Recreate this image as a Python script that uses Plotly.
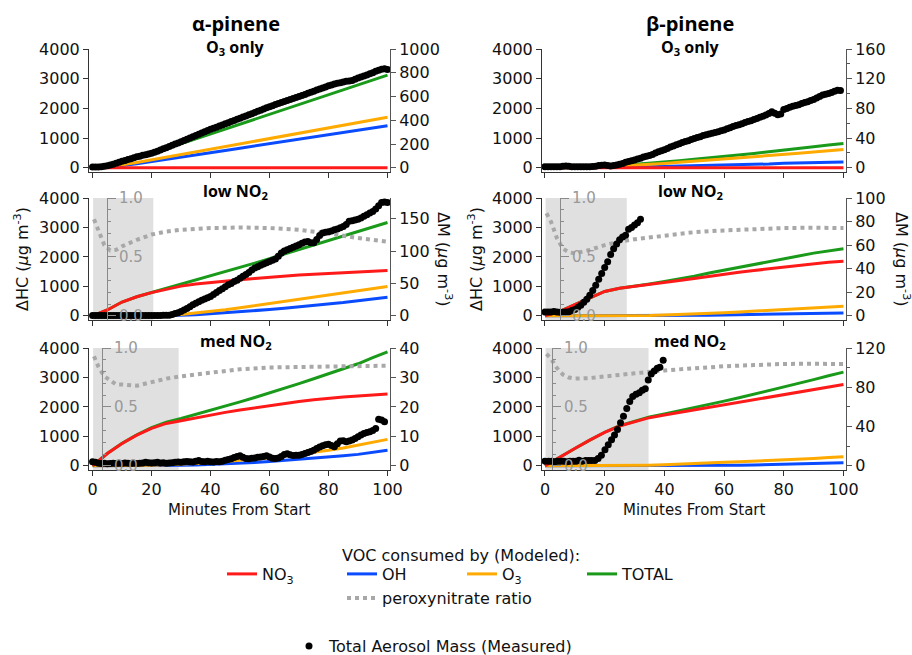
import plotly.graph_objects as go

W, H = 912, 655

# ---------------- data ----------------
t_model = [0, 5, 10, 15, 20, 25, 30, 35, 40, 45, 50, 55, 60, 65, 70, 75, 80, 85, 90, 95, 100]

# alpha-pinene, O3 only
a_o3_no3 = [0] * 21
a_o3_oh = [0, 30, 80, 140, 210, 285, 360, 435, 510, 585, 660, 735, 810, 885, 960, 1035, 1110, 1190, 1265, 1345, 1420]
a_o3_o3 = [0, 40, 100, 180, 270, 360, 450, 540, 630, 720, 810, 900, 990, 1080, 1170, 1260, 1350, 1440, 1530, 1615, 1700]
a_o3_tot = [0, 70, 180, 320, 480, 645, 810, 975, 1140, 1305, 1470, 1635, 1800, 1965, 2130, 2295, 2460, 2630, 2795, 2960, 3120]

# beta-pinene, O3 only
b_o3_no3 = [0] * 21
b_o3_oh = [0, 0, 0, 0, 5, 15, 25, 35, 45, 55, 70, 80, 90, 100, 115, 130, 155, 170, 180, 190, 200]
b_o3_o3 = [0, 0, 5, 15, 35, 60, 90, 120, 150, 185, 220, 255, 290, 330, 370, 410, 450, 490, 530, 575, 620]
b_o3_tot = [0, 0, 5, 15, 40, 75, 115, 155, 195, 240, 290, 335, 380, 430, 485, 540, 605, 660, 710, 765, 820]

# alpha-pinene, low NO2
a_lo_no3 = [0, 200, 470, 650, 790, 910, 1010, 1080, 1135, 1180, 1225, 1270, 1315, 1350, 1385, 1415, 1440, 1465, 1490, 1515, 1540]
a_lo_oh = [0, 0, 0, 0, 0, 5, 20, 40, 70, 100, 135, 175, 215, 260, 305, 350, 400, 450, 510, 570, 630]
a_lo_o3 = [0, 0, 0, 0, 5, 20, 50, 95, 150, 210, 275, 345, 415, 490, 565, 640, 715, 790, 860, 930, 1000]
a_lo_tot = [0, 200, 470, 650, 795, 935, 1080, 1215, 1355, 1490, 1635, 1790, 1945, 2100, 2255, 2405, 2555, 2705, 2860, 3015, 3170]

# beta-pinene, low NO2
b_lo_no3 = [0, 150, 380, 600, 830, 940, 1000, 1070, 1135, 1200, 1270, 1345, 1415, 1480, 1540, 1600, 1655, 1710, 1770, 1820, 1850]
b_lo_oh = [0, 0, 0, 0, 0, 0, 0, 0, 0, 5, 10, 20, 30, 40, 50, 60, 70, 80, 90, 95, 100]
b_lo_o3 = [0, 0, 0, 0, 0, 0, 5, 15, 30, 45, 65, 90, 110, 135, 160, 185, 210, 240, 270, 300, 330]
b_lo_tot = [0, 150, 380, 600, 830, 940, 1005, 1085, 1165, 1250, 1345, 1455, 1555, 1655, 1750, 1845, 1935, 2030, 2130, 2215, 2280]

# alpha-pinene, med NO2
a_md_no3 = [0, 420, 760, 1045, 1270, 1440, 1534, 1635, 1727, 1815, 1898, 1975, 2045, 2115, 2182, 2240, 2295, 2335, 2375, 2410, 2440]
a_md_oh = [0, 0, 0, 0, 5, 10, 20, 30, 45, 65, 90, 115, 145, 180, 215, 255, 300, 345, 390, 460, 530]
a_md_o3 = [0, 0, 5, 10, 20, 35, 55, 80, 110, 145, 185, 230, 280, 335, 395, 460, 530, 610, 700, 800, 900]
a_md_tot = [0, 420, 765, 1055, 1295, 1485, 1609, 1745, 1882, 2025, 2173, 2320, 2470, 2630, 2792, 2955, 3125, 3290, 3465, 3670, 3870]

# beta-pinene, med NO2
b_md_no3 = [0, 307, 590, 875, 1136, 1352, 1500, 1636, 1727, 1815, 1898, 1985, 2068, 2150, 2239, 2335, 2432, 2515, 2602, 2690, 2760]
b_md_oh = [0, 0, 0, 0, 0, 0, 0, 0, 0, 0, 0, 5, 10, 20, 30, 40, 50, 60, 75, 90, 110]
b_md_o3 = [0, 0, 0, 0, 5, 10, 15, 25, 35, 50, 80, 100, 120, 140, 160, 175, 193, 220, 250, 280, 310]
b_md_tot = [0, 307, 590, 875, 1141, 1362, 1515, 1661, 1762, 1865, 1978, 2090, 2198, 2310, 2429, 2550, 2675, 2795, 2927, 3060, 3180]

# peroxynitrate ratio
t_ratio = [0.5, 2, 4, 6, 8, 10, 15, 20, 25, 30, 40, 50, 60, 70, 80, 90, 100]
a_lo_ratio = [0.82, 0.73, 0.60, 0.555, 0.56, 0.59, 0.645, 0.69, 0.715, 0.73, 0.745, 0.75, 0.745, 0.73, 0.70, 0.66, 0.63]
b_lo_ratio = [0.87, 0.80, 0.66, 0.57, 0.54, 0.53, 0.56, 0.60, 0.63, 0.65, 0.68, 0.71, 0.725, 0.737, 0.745, 0.748, 0.745]
a_md_ratio = [0.93, 0.84, 0.76, 0.72, 0.69, 0.69, 0.68, 0.71, 0.74, 0.76, 0.79, 0.82, 0.835, 0.84, 0.845, 0.85, 0.85]
b_md_ratio = [0.95, 0.91, 0.83, 0.775, 0.75, 0.74, 0.745, 0.76, 0.775, 0.785, 0.81, 0.83, 0.845, 0.855, 0.865, 0.866, 0.864]

# measured total aerosol mass (ug m-3)
t_meas_100 = list(range(0, 101))
t_meas_99 = list(range(0, 100))

a_o3_meas = [8, 7, 8, 10, 14, 18, 24, 30, 38, 46,
             55, 62, 70, 77, 85, 93, 98, 105, 111, 116,
             122, 131, 140, 150, 160, 170, 180, 190, 200, 210,
             220, 230, 241, 251, 262, 272, 282, 293, 303, 314,
             324, 333, 342, 352, 361, 370, 380, 389, 398, 408,
             417, 427, 437, 446, 456, 466, 476, 485, 495, 505,
             515, 523, 532, 541, 549, 558, 566, 575, 583, 592,
             600, 609, 618, 627, 636, 645, 654, 663, 672, 681,
             690, 697, 705, 712, 716, 722, 728, 730, 735, 745,
             755, 764, 773, 782, 791, 800, 812, 822, 830, 833, 828]

b_o3_meas = [1.5, 1.5, 1.4, 1.6, 1.5, 1.5, 2.0, 2.5, 2.0, 1.6,
             1.5, 1.4, 1.5, 1.5, 1.6, 1.6, 1.8, 2.2, 3.0, 3.6,
             3.8, 3.2, 2.6, 3.0, 3.8, 4.8, 6.0, 7.5, 8.5, 9.5,
             10.5, 12.0, 13.0, 14.5, 15.5, 16.5, 18.0, 20.0, 21.5, 23.0,
             24.5, 26.0, 28.0, 29.5, 31.0, 32.5, 34.0, 35.5, 36.5, 38.0,
             39.5, 41.0, 42.0, 43.5, 44.5, 45.5, 46.5, 47.5, 48.5, 50.0,
             51.0, 52.5, 54.0, 55.5, 57.0, 58.0, 59.5, 61.0, 62.5, 63.5,
             65.0, 66.5, 68.0, 69.5, 71.0, 73.0, 75.5, 73.5, 71.5, 72.5,
             78.5, 80.0, 81.5, 83.0, 84.0, 85.0, 86.5, 88.0, 89.0, 90.5,
             92.0, 94.0, 96.0, 98.0, 99.0, 100.0, 101.5, 103.0, 104.5, 104.0]

a_lo_meas = [0.5, 0.4, 0.5, 0.5, 0.4, 0.5, 0.5, 0.4, 0.5, 0.5,
             0.4, 0.5, 0.5, 0.4, 0.5, 0.5, 0.4, 0.5, 0.5, 0.4,
             0.5, 0.6, 0.5, 0.6, 0.8, 0.9, 1.0, 2.0, 3.5, 5.0,
             6.7, 9.0, 11.5, 14.0, 17.0, 19.6, 22.0, 24.0, 26.0, 28.0,
             30.0, 33.0, 36.0, 39.0, 42.0, 45.0, 48.0, 50.0, 53.0, 55.0,
             58.0, 61.0, 64.0, 67.0, 71.0, 74.0, 76.0, 78.0, 80.0, 82.0,
             84.0, 86.0, 88.0, 92.0, 97.0, 100.0, 102.0, 104.0, 106.0, 108.0,
             110.0, 112.0, 114.0, 115.0, 113.0, 113.0, 118.0, 124.0, 128.0, 129.0,
             130.0, 131.0, 133.0, 134.0, 136.0, 138.0, 141.0, 146.0, 147.0, 148.0,
             149.0, 151.0, 154.0, 156.0, 159.0, 161.0, 165.0, 170.0, 175.0, 176.0, 175.0]

t_b_lo_meas = list(range(0, 33))
b_lo_meas = [3.2, 3.2, 3.3, 3.8, 3.3, 3.1, 3.0, 3.3, 3.6, 4.5,
             5.5, 7.0, 9.0, 11.5, 14.0, 17.5, 21.5, 26.0, 31.0, 36.0,
             41.0, 46.0, 52.0, 57.0, 61.0, 64.5, 67.0, 68.5, 73.5, 75.0,
             77.0, 79.0, 82.0]

a_md_meas = [1.4, 1.2, 0.9, 0.8, 0.9, 0.7, 0.8, 0.9, 0.8, 0.9,
             0.8, 1.0, 0.9, 0.8, 0.9, 0.8, 0.9, 1.0, 1.2, 1.1,
             1.0, 1.1, 1.2, 1.0, 1.1, 0.9, 1.0, 1.1, 1.2, 1.3,
             1.2, 1.4, 1.5, 1.4, 1.3, 1.6, 1.8, 1.5, 1.4, 1.6,
             1.4, 1.3, 1.5, 1.4, 1.6, 1.9, 2.2, 2.4, 2.8, 3.2,
             3.4, 2.9, 2.5, 2.4, 2.6, 2.7, 2.9, 3.0, 3.2, 3.4,
             3.0, 2.6, 2.5, 2.7, 3.2, 3.9, 4.1, 3.8, 3.5, 3.6,
             3.6, 3.9, 4.2, 4.5, 4.9, 5.3, 5.9, 6.4, 6.8, 7.2,
             7.3, 6.9, 6.5, 7.5, 8.4, 8.5, 8.2, 8.4, 8.8, 9.3,
             9.9, 10.5, 11.0, 11.3, 11.6, 12.0, 12.7, 15.8, 15.6, 15.0]

t_b_md_meas = [0, 1.2, 2.2, 3.2, 4.2, 5.2, 6.3, 7.4, 8.4, 9.4,
               10.4, 11.4, 12.4, 13.6, 14.6, 15.6, 16.7, 17.8, 18.9, 20.1,
               21.2, 22.3, 23.3, 24.3, 25.3, 26.3, 27.4, 28.4, 29.4, 30.5,
               31.6, 32.6, 33.6, 34.6, 35.6, 36.6, 37.6, 38.5, 39.6]
b_md_meas = [4.8, 4.8, 4.8, 4.2, 4.8, 4.8, 4.8, 4.2, 4.8, 4.8,
             4.8, 5.8, 4.8, 5.5, 5.5, 5.5, 5.5, 7.5, 10.9, 16.5,
             21.5, 26.5, 31.5, 37.0, 44.0, 50.5, 58.5, 65.5, 70.5, 73.0,
             74.5, 77.0, 78.5, 87.5, 93.5, 96.5, 99.5, 100.5, 107.5]

# shaded period (minutes)
shade_a_lo = [0.2, 20.6]
shade_b_lo = [0.2, 27.4]
shade_a_md = [0.2, 29.2]
shade_b_md = [0.2, 34.7]

col_titles = ["α-pinene", "β-pinene"]
row_titles = ["O<sub>3</sub> only", "low NO<sub>2</sub>", "med NO<sub>2</sub>"]

hc_ticks = [0, 1000, 2000, 3000, 4000]
x_ticks = [0, 20, 40, 60, 80, 100]

panels = [
    dict(r=0, c=0, model=(a_o3_no3, a_o3_oh, a_o3_o3, a_o3_tot), ratio=None, shade=None,
         mt=t_meas_100, mv=a_o3_meas, mmax=1000, mticks=[0, 200, 400, 600, 800, 1000], mminor=None),
    dict(r=0, c=1, model=(b_o3_no3, b_o3_oh, b_o3_o3, b_o3_tot), ratio=None, shade=None,
         mt=t_meas_99, mv=b_o3_meas, mmax=160, mticks=[0, 40, 80, 120, 160], mminor=[20, 60, 100, 140]),
    dict(r=1, c=0, model=(a_lo_no3, a_lo_oh, a_lo_o3, a_lo_tot), ratio=a_lo_ratio, shade=shade_a_lo,
         mt=t_meas_100, mv=a_lo_meas, mmax=182, mticks=[0, 50, 100, 150], mminor=None, rpos=107),
    dict(r=1, c=1, model=(b_lo_no3, b_lo_oh, b_lo_o3, b_lo_tot), ratio=b_lo_ratio, shade=shade_b_lo,
         mt=t_b_lo_meas, mv=b_lo_meas, mmax=100, mticks=[0, 20, 40, 60, 80, 100], mminor=None, rpos=560),
    dict(r=2, c=0, model=(a_md_no3, a_md_oh, a_md_o3, a_md_tot), ratio=a_md_ratio, shade=shade_a_md,
         mt=t_meas_99, mv=a_md_meas, mmax=40, mticks=[0, 10, 20, 30, 40], mminor=None, rpos=102),
    dict(r=2, c=1, model=(b_md_no3, b_md_oh, b_md_o3, b_md_tot), ratio=b_md_ratio, shade=shade_b_md,
         mt=t_b_md_meas, mv=b_md_meas, mmax=120, mticks=[0, 40, 80, 120], mminor=[20, 60, 100], rpos=552),
]

# ---------------- styling ----------------
RED, BLUE, ORANGE, GREEN = "#ff1a1a", "#0a4bff", "#ffaa00", "#1a9a1a"
GRAY = "#a8a8a8"
SHADE = "#e0e0e0"
FONT = "DejaVu Sans"
BOLD = "Open Sans"
model_names = ["NO<sub>3</sub>", "OH", "O<sub>3</sub>", "TOTAL"]
model_colors = [RED, BLUE, ORANGE, GREEN]
draw_order = [3, 1, 2, 0]   # TOTAL at the bottom, NO3 on top

col_px = [(89, 390), (542, 846)]
col_xrange = [[-1.2, 100.85], [-1.0, 100.85]]
row_px = [(49, 172), (198, 320), (348, 470)]
row_title_y = [48, 191, 341]
YMIN_FRAC = -140 / 4000.0

fig = go.Figure()
layout = dict(
    width=W, height=H, margin=dict(l=0, r=0, t=0, b=0, autoexpand=False),
    paper_bgcolor="white", plot_bgcolor="white",
    font=dict(family=FONT, size=16, color="#111"),
    shapes=[], annotations=[],
)

yc = 0
for p, pn in enumerate(panels):
    r, c = pn["r"], pn["c"]
    xi = p + 1
    xname = "x" if xi == 1 else f"x{xi}"
    x0, x1 = col_px[c]
    ytop, ybot = row_px[r]

    y_hc, y_rat, y_m = yc + 1, yc + 2, yc + 3
    yc += 3
    yn = lambda i: "y" if i == 1 else f"y{i}"

    layout[f"xaxis{xi}"] = dict(
        domain=[x0 / W, x1 / W], range=col_xrange[c], anchor=yn(y_hc), automargin=False,
        showline=True, linecolor="#333", linewidth=1, ticks="outside", ticklen=5,
        tickcolor="#333", tickvals=x_ticks, showticklabels=(r == 2), showgrid=False,
        zeroline=False, tickfont=dict(size=16),
    )
    layout[f"yaxis{y_hc}"] = dict(
        domain=[1 - ybot / H, 1 - ytop / H], range=[YMIN_FRAC * 4000, 4000], anchor=xname,
        automargin=False,
        showline=True, linecolor="#333", linewidth=1, ticks="outside", ticklen=5,
        tickcolor="#333", tickvals=hc_ticks, showgrid=False, zeroline=False,
        tickfont=dict(size=16),
    )
    if pn["ratio"] is not None:
        layout[f"yaxis{y_rat}"] = dict(
            overlaying=yn(y_hc), anchor="free", position=pn["rpos"] / W, side="right",
            automargin=False,
            range=[YMIN_FRAC, 1.0], tickvals=[0, 0.5, 1.0], ticktext=["0.0", "0.5", "1.0"],
            showline=True, linecolor="#8a8a8a", linewidth=1, ticks="outside", ticklen=8,
            tickcolor="#8a8a8a", tickfont=dict(size=15, color="#999"), showgrid=False,
            zeroline=False,
            minor=dict(tickvals=[0.1, 0.2, 0.3, 0.4, 0.6, 0.7, 0.8, 0.9], ticks="outside",
                       ticklen=3, tickcolor="#8a8a8a"),
        )
    else:
        layout[f"yaxis{y_rat}"] = dict(overlaying=yn(y_hc), visible=False, range=[YMIN_FRAC, 1.0])
    m_axis = dict(
        overlaying=yn(y_hc), anchor=xname, side="right", automargin=False,
        range=[YMIN_FRAC * pn["mmax"], pn["mmax"]], tickvals=pn["mticks"],
        showline=True, linecolor="#555", linewidth=1, ticks="outside", ticklen=5,
        tickcolor="#555", showgrid=False, zeroline=False, tickfont=dict(size=16),
    )
    if pn["mminor"]:
        m_axis["minor"] = dict(tickvals=pn["mminor"], ticks="outside", ticklen=3, tickcolor="#555")
    layout[f"yaxis{y_m}"] = m_axis

    # shaded period
    if pn["shade"] is not None:
        layout["shapes"].append(dict(
            type="rect", xref=xname, yref=yn(y_hc), x0=pn["shade"][0], x1=pn["shade"][1],
            y0=YMIN_FRAC * 4000, y1=4000, fillcolor=SHADE, line=dict(width=0), layer="below",
        ))

    show = (p == 2)
    # modeled lines
    for k in draw_order:
        fig.add_trace(go.Scatter(
            x=t_model, y=pn["model"][k], mode="lines", name=model_names[k],
            line=dict(color=model_colors[k], width=3),
            xaxis=xname, yaxis=yn(y_hc), showlegend=show, legend="legend", legendrank=k + 1,
        ))
    # ratio
    if pn["ratio"] is not None:
        fig.add_trace(go.Scatter(
            x=t_ratio, y=pn["ratio"], mode="lines", name="peroxynitrate ratio",
            line=dict(color=GRAY, width=4, dash="dot"),
            xaxis=xname, yaxis=yn(y_rat), showlegend=show, legend="legend2",
        ))
    # measured
    fig.add_trace(go.Scatter(
        x=pn["mt"], y=pn["mv"], mode="markers", name="Total Aerosol Mass (Measured)",
        marker=dict(color="black", size=7),
        xaxis=xname, yaxis=yn(y_m), showlegend=show, legend="legend3",
    ))

    # row title
    layout["annotations"].append(dict(
        text=f"<b>{row_titles[r]}</b>", x=((x0 + x1) / 2 - 4) / W, y=1 - row_title_y[r] / H,
        xref="paper", yref="paper", xanchor="center", yanchor="middle", showarrow=False,
        font=dict(family=BOLD, size=16, color="#000"),
    ))

# column titles and x-axis titles
for c in range(2):
    x0, x1 = col_px[c]
    layout["annotations"].append(dict(
        text=f"<b>{col_titles[c]}</b>", x=((x0 + x1) / 2 - 4) / W, y=1 - 23 / H,
        xref="paper", yref="paper", xanchor="center", yanchor="middle", showarrow=False,
        font=dict(family=BOLD, size=20, color="#000"),
    ))
    layout["annotations"].append(dict(
        text="Minutes From Start", x=((x0 + x1) / 2) / W, y=1 - 510 / H,
        xref="paper", yref="paper", xanchor="center", yanchor="middle", showarrow=False,
        font=dict(family=FONT, size=15, color="#111"),
    ))

# axis titles for the middle row
ymid = (row_px[1][0] + row_px[1][1]) / 2
for xpx in (22, 476):
    layout["annotations"].append(dict(
        text="ΔHC (<i>μ</i>g m<sup>-3</sup>)", x=xpx / W, y=1 - ymid / H, textangle=-90,
        xref="paper", yref="paper", xanchor="center", yanchor="middle", showarrow=False,
        font=dict(family=FONT, size=16, color="#111"),
    ))
for xpx in (444, 902):
    layout["annotations"].append(dict(
        text="ΔM (<i>μ</i>g m<sup>-3</sup>)", x=xpx / W, y=1 - ymid / H, textangle=90,
        xref="paper", yref="paper", xanchor="center", yanchor="middle", showarrow=False,
        font=dict(family=FONT, size=16, color="#111"),
    ))

# legend heading
layout["annotations"].append(dict(
    text="VOC consumed by (Modeled):", x=461 / W, y=1 - 555 / H,
    xref="paper", yref="paper", xanchor="center", yanchor="middle", showarrow=False,
    font=dict(family=FONT, size=16, color="#111"),
))

# legends
layout["legend"] = dict(
    orientation="h", x=222 / W, y=1 - 557 / H, xanchor="left", yanchor="top",
    entrywidth=75, entrywidthmode="pixels", bgcolor="rgba(0,0,0,0)",
    font=dict(family=FONT, size=16, color="#111"), itemwidth=30, tracegroupgap=0,
)
layout["legend2"] = dict(
    orientation="h", x=342 / W, y=1 - 581 / H, xanchor="left", yanchor="top",
    bgcolor="rgba(0,0,0,0)", font=dict(family=FONT, size=16, color="#111"), itemwidth=30,
)
layout["legend3"] = dict(
    orientation="h", x=289 / W, y=1 - 629 / H, xanchor="left", yanchor="top",
    bgcolor="rgba(0,0,0,0)", font=dict(family=FONT, size=16, color="#111"), itemwidth=30,
)

fig.update_layout(**layout)
fig.write_html("out.html")
